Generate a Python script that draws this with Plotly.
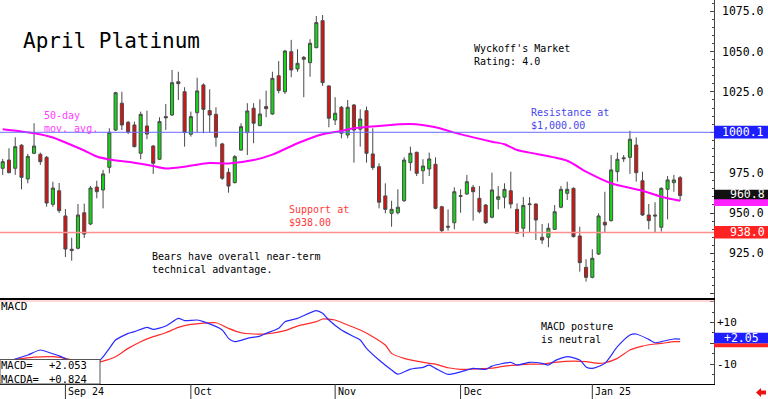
import plotly.graph_objects as go
import pandas as pd

# ---------------- data ----------------
holidays = ["2024-09-02", "2024-11-28", "2024-12-25", "2025-01-01", "2025-01-20"]
dates = [d.strftime("%Y-%m-%d") for d in
         pd.bdate_range("2024-08-19", "2025-01-23", freq="C", holidays=holidays)]

opens = [977.7, 982.8, 977.7, 992.0, 971.1, 987.0, 986.4, 984.5, 955.4, 963.8,
         948.2, 927.6, 928.2, 950.2, 943.2, 966.1, 964.3, 978.3, 1001.4, 1018.0,
         1006.2, 1004.5, 987.0, 1003.9, 991.5, 983.3, 1009.7, 1010.7, 1031.3, 1025.1,
         998.8, 1012.1, 1029.3, 1013.4, 1011.1, 992.8, 975.2, 968.8, 989.0, 999.8,
         1014.9, 1004.1, 1015.9, 1011.3, 1035.0, 1025.1, 1049.9, 1039.2, 1046.4, 1043.1,
         1052.4, 1069.1, 1028.7, 1007.6, 1015.5, 998.3, 1016.9, 1001.9, 1013.4, 986.6,
         978.7, 960.6, 949.8, 950.2, 957.6, 981.2, 987.6, 976.2, 977.3, 980.2,
         953.9, 941.8, 944.0, 960.8, 961.8, 965.9, 959.1, 955.0, 947.4, 958.5,
         959.8, 963.8, 952.3, 940.6, 955.2, 955.6, 935.0, 935.0, 939.9, 953.6,
         962.2, 965.3, 935.8, 916.4, 910.2, 924.6, 944.3, 945.3, 975.6, 983.6,
         984.5, 992.1, 970.0, 948.8, 948.8, 941.2, 964.7, 968.8, 971.9]
highs = [983.5, 990.1, 996.9, 992.6, 986.6, 1005.6, 987.4, 985.3, 969.4, 968.6,
         952.5, 934.7, 955.6, 955.8, 966.7, 970.0, 976.7, 1002.5, 1025.1, 1025.1,
         1007.0, 1006.6, 1012.8, 1013.4, 992.1, 1009.3, 1017.5, 1038.6, 1037.5, 1027.9,
         1012.8, 1033.8, 1030.3, 1026.6, 1015.5, 993.5, 977.7, 985.9, 1005.6, 1018.0,
         1018.0, 1020.4, 1025.8, 1037.5, 1044.1, 1051.0, 1057.2, 1051.4, 1047.2, 1057.6,
         1072.0, 1072.6, 1029.0, 1021.7, 1016.3, 1020.0, 1017.5, 1014.2, 1015.9, 1002.5,
         980.8, 968.4, 957.6, 964.7, 984.5, 991.1, 988.0, 983.3, 987.4, 984.5,
         954.5, 952.3, 965.9, 964.7, 973.6, 967.4, 966.7, 955.5, 975.0, 966.7,
         968.4, 975.6, 956.0, 959.9, 959.9, 956.0, 943.2, 943.7, 955.0, 966.7,
         969.4, 965.9, 941.5, 921.4, 927.6, 949.8, 963.2, 985.9, 987.4, 985.9,
         1001.0, 996.9, 975.6, 955.6, 956.7, 965.9, 972.9, 973.6, 972.9]
lows = [973.6, 974.6, 973.6, 964.7, 968.4, 986.5, 979.8, 953.9, 953.9, 950.0,
        922.8, 920.5, 927.5, 934.6, 942.5, 959.1, 952.9, 974.6, 1000.8, 1001.4,
        998.9, 990.7, 983.3, 995.7, 974.2, 982.8, 1001.4, 1010.1, 1020.0, 991.1,
        997.3, 999.8, 999.4, 999.8, 991.1, 970.5, 962.6, 968.4, 988.6, 985.9,
        993.2, 1003.9, 1009.3, 1010.8, 1024.1, 1023.7, 1034.1, 1037.5, 1021.7, 1034.4,
        1052.0, 1028.7, 1003.1, 1004.5, 996.3, 996.3, 981.2, 991.1, 981.2, 976.7,
        952.9, 949.8, 941.5, 949.2, 957.0, 976.2, 972.9, 968.0, 972.9, 952.3,
        937.8, 939.1, 939.9, 950.2, 961.2, 945.3, 949.8, 943.2, 946.7, 952.3,
        952.9, 952.9, 937.0, 935.2, 938.3, 933.3, 930.8, 928.8, 939.5, 953.0,
        958.1, 934.8, 913.7, 907.5, 909.6, 924.0, 937.8, 944.7, 969.4, 981.6,
        974.2, 969.4, 948.2, 939.9, 937.8, 938.5, 946.1, 963.2, 957.6]
closes = [981.8, 975.0, 991.1, 972.1, 985.1, 991.5, 981.8, 956.2, 965.5, 951.5,
          927.7, 926.8, 948.8, 937.0, 965.5, 963.2, 974.2, 1000.0, 1024.5, 1004.5,
          1000.0, 991.1, 1011.1, 998.9, 980.8, 1006.6, 1009.0, 1030.7, 1030.1, 999.8,
          1009.7, 1025.6, 1014.2, 1010.7, 996.9, 971.5, 966.7, 984.9, 1003.5, 1013.2,
          1005.6, 1011.3, 1014.6, 1033.4, 1025.8, 1050.3, 1038.6, 1042.7, 1045.2, 1055.1,
          1067.9, 1030.7, 1008.7, 1011.8, 999.4, 1015.5, 1001.4, 1008.2, 987.0, 978.2,
          956.7, 952.3, 952.3, 953.6, 982.8, 987.0, 974.6, 979.1, 983.5, 952.9,
          939.1, 941.3, 963.2, 960.4, 969.4, 963.2, 950.8, 944.0, 964.3, 960.1,
          964.7, 955.6, 937.5, 954.7, 955.6, 945.7, 933.3, 940.6, 950.8, 964.7,
          964.7, 935.4, 919.3, 910.2, 922.0, 948.2, 942.6, 976.7, 983.3, 984.1,
          995.7, 975.0, 948.8, 945.3, 948.2, 965.3, 970.5, 970.5, 960.8]

# 50-day moving average (read at sample candles)
ma_idx = [0, 5, 8, 10, 13, 15, 17, 21, 24, 26, 28, 33, 36, 40, 43, 47, 51, 54, 56,
          60, 65, 69, 72, 78, 80, 82, 84, 90, 93, 97, 102, 105, 108]
ma_val = [1001.9, 999.4, 996.8, 993.7, 988.7, 985.0, 983.2, 981.2, 979.1, 977.6,
          978.2, 981.0, 980.7, 982.8, 986.2, 993.2, 998.8, 1000.8, 1002.5,
          1003.9, 1005.1, 1003.1, 999.8, 994.2, 992.6, 989.0, 987.4, 982.4, 975.6,
          968.4, 963.8, 960.1, 957.6]

# MACD (blue) and signal / MACDA (red)
macd_idx = [0, 2, 4, 6, 8, 9, 10, 12, 14, 15, 16, 17, 18, 20, 21, 23, 24, 26, 28, 29,
            31, 32, 35, 36, 37, 39, 41, 42, 44, 45, 47, 50, 51, 52, 54, 56, 57, 58, 60, 62,
            63, 65, 67, 68, 69, 71, 73, 75, 77, 78, 81, 82, 84, 86, 87, 88, 90, 92, 93, 94,
            96, 98, 100, 101, 103, 104, 105, 107, 108]
macd_val = [-9.5, -7.5, -5.6, -3.2, -5.0, -6.0, -7.4, -10.0, -10.5, -9.5,
            -6.5, -2.4, 1.6, 4.8, 5.6, 7.7, 6.7, 8.3, 12.0, 10.9,
            11.2, 10.4, 6.4, 2.4, 0.8, 2.4, 3.5, 4.8, 7.2, 10.4,
            12.0, 15.7, 14.4, 11.2, 6.4, 3.2, 1.6, -2.4, -8.0, -12.8,
            -14.8, -12.4, -11.5, -10.4, -12.0, -14.9, -13.7, -12.0, -12.5, -10.9,
            -9.1, -10.4, -9.1, -9.6, -10.4, -8.4, -6.4, -8.0, -11.3, -12.0,
            -9.6, -1.6, 4.0, 4.5, 1.9, 0.3, 0.8, 2.1, 2.053]
sig_idx = [0, 5, 8, 10, 12, 15, 18, 20, 22, 24, 26, 28, 30, 34, 36, 38, 40, 42, 45, 47,
           50, 51, 53, 55, 57, 59, 61, 62, 64, 66, 68, 69, 71, 73, 76, 78, 80, 82, 84, 86,
           88, 91, 93, 95, 96, 98, 100, 102, 104, 105, 107, 108]
sig_val = [-8.5, -6.6, -6.4, -7.2, -8.5, -9.3, -6.4, -2.4, 0.8, 3.2,
           5.1, 7.7, 9.1, 9.9, 7.2, 5.1, 4.5, 4.5, 6.1, 8.3,
           10.4, 11.7, 11.2, 8.8, 6.4, 3.2, -0.8, -4.8, -7.2, -8.5,
           -9.6, -10.0, -11.7, -12.5, -12.2, -11.9, -10.9, -10.4, -10.0, -10.0,
           -9.1, -8.5, -8.8, -9.6, -9.3, -7.2, -3.2, -1.3, -0.3, 0.0, 0.8, 0.824]

price_ticks = [1075, 1050, 1025, 975, 950, 925]
macd_ticks = [10, -10]
month_dates = ["2024-09-03", "2024-10-01", "2024-11-01", "2024-12-02", "2025-01-02"]
month_labels = ["Sep 24", "Oct", "Nov", "Dec", "Jan 25"]
resistance = 1000.0
support = 938.0
last_close = 960.8
last_macd = 2.053
last_macda = 0.824

# ---------------- layout helpers ----------------
W, H = 768, 399
PW, PH = 714, 384           # plot area width / height (px)
Y_MAIN = [897.4, 1081.9]
Y_MACD = [-19.5, 20.8]
MAIN_DOM = [86 / PH, 1.0]
MACD_DOM = [0.0, 84 / PH]
XR = [-0.43, 113.4]
MONO = "DejaVu Sans Mono"


def px(x):
    return x / PW


def py(y):
    return (PH - y) / PH


def main_paper(p):
    return MAIN_DOM[0] + (p - Y_MAIN[0]) / (Y_MAIN[1] - Y_MAIN[0]) * (MAIN_DOM[1] - MAIN_DOM[0])


def macd_paper(v):
    return MACD_DOM[0] + (v - Y_MACD[0]) / (Y_MACD[1] - Y_MACD[0]) * (MACD_DOM[1] - MACD_DOM[0])


fig = go.Figure()

fig.add_trace(go.Candlestick(
    x=dates, open=opens, high=highs, low=lows, close=closes,
    increasing=dict(fillcolor="#14d814", line=dict(color="#4a4a4a", width=1)),
    decreasing=dict(fillcolor="#dd1010", line=dict(color="#4a4a4a", width=1)),
    whiskerwidth=0, showlegend=False, hoverinfo="skip", xaxis="x", yaxis="y"))

fig.add_trace(go.Scatter(
    x=[dates[i] for i in ma_idx], y=ma_val, mode="lines",
    line=dict(color="#ff00ff", width=2, shape="spline", smoothing=0.8),
    showlegend=False, hoverinfo="skip", xaxis="x", yaxis="y"))

fig.add_trace(go.Scatter(
    x=[dates[i] for i in sig_idx], y=sig_val, mode="lines",
    line=dict(color="#ff2a2a", width=1.2, shape="spline", smoothing=0.6),
    showlegend=False, hoverinfo="skip", xaxis="x2", yaxis="y2"))
fig.add_trace(go.Scatter(
    x=[dates[i] for i in macd_idx], y=macd_val, mode="lines",
    line=dict(color="#2a2aff", width=1.2, shape="spline", smoothing=0.6),
    showlegend=False, hoverinfo="skip", xaxis="x2", yaxis="y2"))

shapes = []
# resistance / support lines
shapes.append(dict(type="line", xref="paper", yref="paper", x0=0, x1=1,
                   y0=main_paper(resistance), y1=main_paper(resistance),
                   line=dict(color="#6a6aff", width=1)))
shapes.append(dict(type="line", xref="paper", yref="paper", x0=0, x1=1,
                   y0=main_paper(support), y1=main_paper(support),
                   line=dict(color="#ff9090", width=1.5)))
# faint red line at top of MACD panel
shapes.append(dict(type="line", xref="paper", yref="paper", x0=0, x1=1,
                   y0=py(301), y1=py(301), line=dict(color="#ffb4b4", width=1)))


# right-hand value boxes
def rbox(y0, y1, color):
    shapes.append(dict(type="rect", xref="paper", yref="paper", x0=1.0, x1=px(768),
                       y0=y0, y1=y1, fillcolor=color, line=dict(width=0), layer="above"))


rbox(main_paper(resistance - 3.9), main_paper(resistance + 4.1), "#1e1eff")
rbox(main_paper(954.4), main_paper(959.5), "#ff22ff")
rbox(main_paper(958.6), main_paper(964.4), "#111111")
rbox(main_paper(support - 3.8), main_paper(support + 4.0), "#ff2222")
rbox(macd_paper(-1.9), macd_paper(0.0), "#ff2222")
rbox(macd_paper(0.0), macd_paper(5.1), "#1e1eff")

# MACD value box
shapes.append(dict(type="rect", xref="paper", yref="paper", x0=px(0), x1=px(100),
                   y0=py(384), y1=py(359.5), fillcolor="white",
                   line=dict(color="#555555", width=1), layer="above"))

# month separators in the date strip
for d in month_dates:
    shapes.append(dict(type="line", xref="x2", yref="paper", x0=d, x1=d,
                       y0=0, y1=py(399), line=dict(color="#333333", width=1)))

# small red arrow bottom right
ax = [766, 761, 761, 756, 761, 761, 766]
ay = [390.5, 390.5, 388, 392.5, 397, 394.5, 394.5]
path = "M " + " L ".join(f"{px(a):.5f},{py(b):.5f}" for a, b in zip(ax, ay)) + " Z"
shapes.append(dict(type="path", xref="paper", yref="paper", path=path,
                   fillcolor="#ee1111", line=dict(width=0)))

ann = []


def text(t, x, y, color="black", size=10.5, xanchor="left", yref="paper", xref="paper"):
    ann.append(dict(text=t, x=x, y=y, xref=xref, yref=yref, xanchor=xanchor,
                    yanchor="middle", showarrow=False, align="left",
                    font=dict(family=MONO, size=size, color=color)))


text("April Platinum", px(21), py(41), size=21)
text("Wyckoff's Market<br>Rating: 4.0", px(472), py(54.5), size=10)
text("Resistance at<br>$1,000.00", px(529), py(119.5), color="#4646ee", size=10)
text("50-day<br>mov. avg.", px(42), py(121.5), color="#ff3cff", size=10)
text("Support at<br>$938.00", px(287), py(216.5), color="#ff3a3a", size=10)
text("Bears have overall near-term<br>technical advantage.", px(149.5), py(262.5), size=10)
text("MACD posture<br>is neutral", px(539), py(332.5), size=10)
text("MACD", px(-1), py(306.5), size=11)
text("MACD=<br>MACDA=", px(-1), py(372), size=10.5)
text(f"{last_macd:+.3f}<br>{last_macda:+.3f}", px(47), py(372), size=10.5)

# right axis labels
for v in price_ticks:
    text(f"{v:.1f}", px(766), v, size=11.5, xanchor="right", yref="y")
text(f"{resistance + 0.1:.1f}", px(766), resistance, color="white", size=11.5,
     xanchor="right", yref="y")
text(f"{last_close:.1f}", px(767), 961.5, color="white", size=11.5,
     xanchor="right", yref="y")
text(f"{support:.1f}", px(767), support, color="white", size=11.5,
     xanchor="right", yref="y")
for v in macd_ticks:
    text(f"{v:+d}".replace("+-", "-"), px(715), v, size=11, yref="y2")
text(f"{last_macd:+.2f}", px(741), 2.55, color="white", size=11.5,
     xanchor="center", yref="y2")

# date labels
for d, lab in zip(month_dates, month_labels):
    ann.append(dict(text=lab, x=d, xref="x2", y=py(391.5), yref="paper",
                    xanchor="left", yanchor="middle", xshift=1, showarrow=False,
                    font=dict(family=MONO, size=10, color="black")))

common_x = dict(type="category", categoryorder="array", categoryarray=dates,
                range=XR, domain=[0, 1], showticklabels=False, ticks="",
                showgrid=False, zeroline=False, fixedrange=True)

fig.update_layout(
    width=W, height=H,
    margin=dict(l=0, r=W - PW, t=0, b=H - PH, pad=0),
    paper_bgcolor="white", plot_bgcolor="white",
    showlegend=False,
    xaxis=dict(**common_x, anchor="y", showline=True, linecolor="black", linewidth=2,
               rangeslider=dict(visible=False)),
    yaxis=dict(domain=MAIN_DOM, range=Y_MAIN, side="right", anchor="x",
               showline=True, linecolor="#444444", linewidth=1,
               ticks="inside", ticklen=4, tickcolor="#444444", dtick=25, tick0=0,
               minor=dict(ticks="inside", ticklen=2, dtick=5, tickcolor="#444444"),
               showticklabels=False, showgrid=False, zeroline=False,
               automargin=False, fixedrange=True),
    xaxis2=dict(**common_x, anchor="y2", showline=True, linecolor="black", linewidth=1),
    yaxis2=dict(domain=MACD_DOM, range=Y_MACD, side="right", anchor="x2",
                showline=True, linecolor="#444444", linewidth=1,
                ticks="inside", ticklen=4, tickcolor="#444444", dtick=10, tick0=0,
                minor=dict(ticks="inside", ticklen=2, dtick=5, tickcolor="#444444"),
                showticklabels=False, showgrid=False, zeroline=False,
                automargin=False, fixedrange=True),
    shapes=shapes,
    annotations=ann,
)

fig.write_html(
    "out.html",
    config={"displayModeBar": False, "staticPlot": True},
    post_script="document.body.style.margin='0px';document.body.style.overflow='hidden';",
)
